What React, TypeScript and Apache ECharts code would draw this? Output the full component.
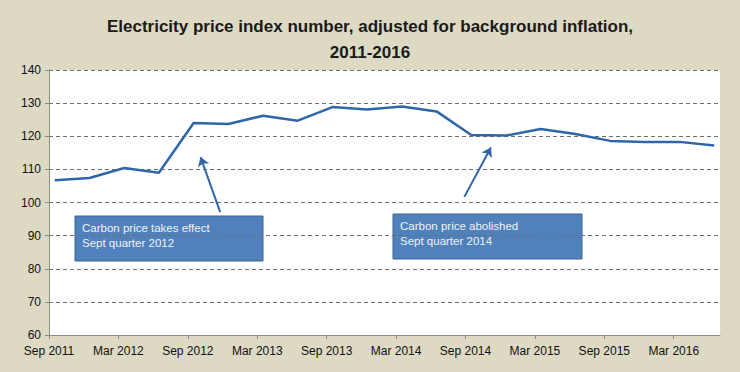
import React, { useEffect, useRef } from "react";
import * as echarts from "echarts";

// Quarter-end observations, Sep 2011 .. Jun 2016
const quarters = [
  "Sep 2011", "Dec 2011", "Mar 2012", "Jun 2012", "Sep 2012", "Dec 2012",
  "Mar 2013", "Jun 2013", "Sep 2013", "Dec 2013", "Mar 2014", "Jun 2014",
  "Sep 2014", "Dec 2014", "Mar 2015", "Jun 2015", "Sep 2015", "Dec 2015",
  "Mar 2016", "Jun 2016",
];
const priceIndex = [
  106.7, 107.4, 110.4, 109.0, 124.0, 123.7, 126.2, 124.7, 128.8, 128.1,
  129.0, 127.5, 120.4, 120.2, 122.2, 120.7, 118.6, 118.3, 118.3, 117.2,
];
const tickLabels = [
  "Sep 2011", "Mar 2012", "Sep 2012", "Mar 2013", "Sep 2013",
  "Mar 2014", "Sep 2014", "Mar 2015", "Sep 2015", "Mar 2016",
];
const yTicks = [60, 70, 80, 90, 100, 110, 120, 130, 140];

// annotation arrows in data space: [months since Sep 2011, index]
const arrow1 = { from: [14.8, 97.1], to: [13.1, 113.7] };
const arrow2 = { from: [35.9, 101.7], to: [38.2, 116.6] };
const note1 = ["Carbon price takes effect", "Sept quarter 2012"];
const note2 = ["Carbon price abolished", "Sept quarter 2014"];

const App: React.FC = () => {
  const ref = useRef<HTMLDivElement>(null);

  useEffect(() => {
    document.body.style.margin = "0";
    if (!ref.current) return;
    const chart = echarts.init(ref.current, undefined, { renderer: "svg" });
    const font = "'Liberation Sans', Arial, sans-serif";
    const lineColor = "#2f66aa";

    const seriesData = quarters.map((_, i) => [i * 3 + 0.5, priceIndex[i]]);
    const tickVals = tickLabels.map((_, i) => i * 6);

    const box = (x: number, y: number, w: number, h: number, lines: string[]) => ({
      type: "group",
      x,
      y,
      children: [
        {
          type: "rect",
          shape: { x: 0, y: 0, width: w, height: h },
          style: { fill: "#4f81bd", stroke: "#3a6597", lineWidth: 1 },
        },
        {
          type: "text",
          x: 7,
          y: 4,
          style: {
            text: lines.join("\n"),
            fill: "#f2f2f2",
            font: `11.5px ${font}`,
            lineHeight: 15,
          },
        },
      ],
    });

    chart.setOption({
      animation: false,
      backgroundColor: "#ddd9c3",
      title: {
        text: "Electricity price index number, adjusted for background inflation,\n2011-2016",
        left: "center",
        top: 8,
        textStyle: {
          fontFamily: font,
          fontWeight: "bold",
          fontSize: 17,
          lineHeight: 26,
          color: "#1a1a1a",
        },
      },
      grid: {
        left: 49,
        right: 20,
        top: 70,
        bottom: 37,
        show: true,
        backgroundColor: "#ffffff",
        borderWidth: 0,
      },
      xAxis: {
        type: "value",
        min: 0,
        max: 58,
        splitLine: { show: false },
        axisLine: { show: true, lineStyle: { color: "#8c8c8c", width: 1 } },
        axisTick: {
          show: true,
          customValues: tickVals,
          length: 4,
          lineStyle: { color: "#8c8c8c" },
        },
        axisLabel: {
          customValues: tickVals,
          formatter: (v: number) => tickLabels[Math.round(v / 6)] ?? "",
          color: "#111",
          fontFamily: font,
          fontSize: 12,
          margin: 10,
        },
      },
      yAxis: {
        type: "value",
        min: 60,
        max: 140,
        interval: 10,
        axisLine: { show: true, lineStyle: { color: "#8c8c8c", width: 1 } },
        axisTick: { show: true, length: 4, lineStyle: { color: "#8c8c8c" } },
        splitLine: {
          show: true,
          lineStyle: { color: "#6f6f6f", type: [4, 3], width: 1 },
        },
        axisLabel: {
          color: "#111",
          fontFamily: font,
          fontSize: 12,
          margin: 8,
          formatter: (v: number) => (yTicks.includes(v) ? String(v) : ""),
        },
      },
      series: [
        {
          type: "line",
          data: seriesData,
          symbol: "none",
          lineStyle: { color: lineColor, width: 2.5 },
          markLine: {
            silent: true,
            symbol: ["none", "arrow"],
            symbolSize: 9,
            label: { show: false },
            lineStyle: { color: lineColor, width: 2, type: "solid" },
            data: [
              [{ coord: arrow1.from }, { coord: arrow1.to }],
              [{ coord: arrow2.from }, { coord: arrow2.to }],
            ],
          },
        },
      ],
      graphic: [box(75, 216, 188, 45, note1), box(393, 214, 189, 45, note2)],
    });

    return () => chart.dispose();
  }, []);

  return <div ref={ref} style={{ width: 740, height: 372 }} />;
};

export default App;
